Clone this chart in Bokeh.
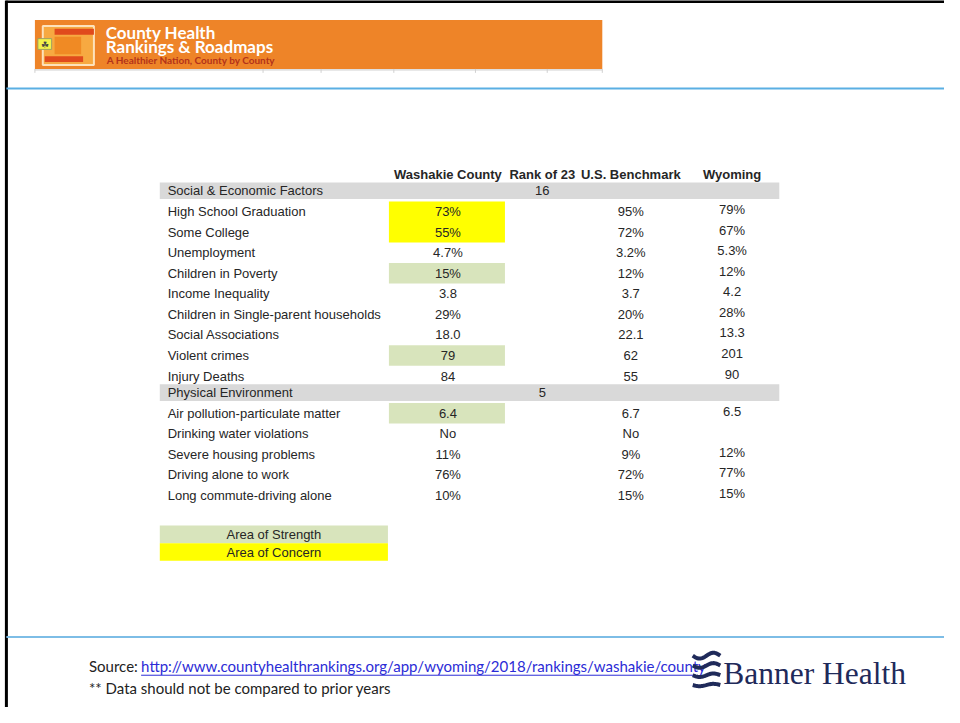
import numpy as np
from bokeh.plotting import figure
from bokeh.models import Range1d
from bokeh.core.properties import value
from bokeh.embed import file_html
from bokeh.resources import INLINE

# ---------------- data ----------------
col_headers = ["Washakie County", "Rank of 23", "U.S. Benchmark", "Wyoming"]
sections = ["Social & Economic Factors", "Physical Environment"]
section_ranks = ["16", "5"]
section_sizes = [9, 5]
measures = ["High School Graduation", "Some College", "Unemployment", "Children in Poverty",
            "Income Inequality", "Children in Single-parent households", "Social Associations",
            "Violent crimes", "Injury Deaths",
            "Air pollution-particulate  matter", "Drinking water violations",
            "Severe housing problems", "Driving alone to work", "Long commute-driving  alone"]
washakie = ["73%", "55%", "4.7%", "15%", "3.8", "29%", "18.0", "79", "84",
            "6.4", "No", "11%", "76%", "10%"]
benchmark = ["95%", "72%", "3.2%", "12%", "3.7", "20%", "22.1", "62", "55",
             "6.7", "No", "9%", "72%", "15%"]
wyoming = ["79%", "67%", "5.3%", "12%", "4.2", "28%", "13.3", "201", "90",
           "6.5", "", "12%", "77%", "15%"]
status = ["concern", "concern", "", "strength", "", "", "", "strength", "",
          "strength", "", "", "", ""]
legend_labels = ["Area of Strength", "Area of Concern"]

# ---------------- styles ----------------
FONT = value("Liberation Sans")
FS = "13px"
GREEN = "#d8e4bc"
YELLOW = "#ffff00"
GRAY = "#d9d9d9"
TXT = "#262626"
status_color = {"strength": GREEN, "concern": YELLOW}

W, H = 944, 707
p = figure(width=W, height=H, output_backend="svg", toolbar_location=None,
           x_range=Range1d(0, 960), y_range=Range1d(723, 0),
           min_border=0, outline_line_color=None)
p.axis.visible = False
p.grid.visible = False
p.background_fill_color = "white"
p.border_fill_color = "white"

# page frame
p.segment(x0=[6], y0=[0], x1=[6], y1=[723], line_color="black", line_width=3)
p.segment(x0=[5], y0=[1], x1=[960], y1=[1], line_color="black", line_width=3)
p.segment(x0=[6], y0=[90], x1=[960], y1=[90], line_color="#5aafe3", line_width=2)
p.segment(x0=[6], y0=[651], x1=[960], y1=[651], line_color="#7dbde6", line_width=2)

# ---------------- header banner ----------------
p.quad(left=[35], right=[612], top=[20], bottom=[70], fill_color="#ee8428", line_color=None)
p.segment(x0=[35], y0=[71], x1=[612], y1=[71], line_color="#c8c8c8", line_width=1)
for gx in [35, 267, 326, 400, 483, 556, 612]:
    p.segment(x0=[gx], y0=[70], x1=[gx], y1=[74], line_color="#d0d0d0", line_width=1)
# logo
p.quad(left=[43], right=[95], top=[26], bottom=[66], fill_color="#f7a941", line_color="#fde2bb", line_width=2)
p.quad(left=[55], right=[95], top=[29], bottom=[35], fill_color="#e04a1c", line_color=None)
p.quad(left=[45], right=[84], top=[57], bottom=[63], fill_color="#e04a1c", line_color=None)
p.quad(left=[55], right=[82], top=[37], bottom=[55], fill_color="#f08a24", line_color=None)
p.quad(left=[38], right=[52], top=[39], bottom=[50], fill_color="#f2f24a", line_color="#a0a060")
p.text(x=[45], y=[45], text=["\u2618"], text_font_size="9px", text_color="#444444",
       text_align="center", text_baseline="middle")
p.text(x=[107, 107], y=[33, 47], text=["County Health", "Rankings & Roadmaps"],
       text_font=value("Lato"), text_font_style="bold", text_font_size="17px",
       text_color="white", text_baseline="middle")
p.text(x=[108], y=[61], text=["A Healthier Nation, County by County"],
       text_font=value("Lato"), text_font_style="bold", text_font_size="10px",
       text_color="#b3321a", text_baseline="middle")

# ---------------- table ----------------
col_x = [455, 551, 641, 744]
label_x = 170
band_left, band_right = 162, 792
cell_left, cell_right = 395, 513
row_h = 21

p.text(x=col_x, y=[178] * 4, text=col_headers, text_font=FONT, text_font_style="bold",
       text_font_size=FS, text_color=TXT, text_align="center", text_baseline="middle")

y = 194.5
idx = 0
for s, (name, rank, n) in enumerate(zip(sections, section_ranks, section_sizes)):
    p.quad(left=[band_left], right=[band_right], top=[y - 8.5], bottom=[y + 8.5],
           fill_color=GRAY, line_color=None)
    p.text(x=[label_x], y=[y], text=[name], text_font=FONT, text_font_size=FS,
           text_color=TXT, text_baseline="middle")
    p.text(x=[col_x[1]], y=[y], text=[rank], text_font=FONT, text_font_size=FS,
           text_color=TXT, text_align="center", text_baseline="middle")
    y += 21.5 if s == 0 else 21
    for k in range(n):
        st = status[idx]
        if st:
            p.quad(left=[cell_left], right=[cell_right], top=[y - 10.5], bottom=[y + 10.5],
                   fill_color=status_color[st], line_color=None)
        p.text(x=[label_x], y=[y], text=[measures[idx]], text_font=FONT, text_font_size=FS,
               text_color=TXT, text_baseline="middle")
        p.text(x=[col_x[0], col_x[2]], y=[y, y], text=[washakie[idx], benchmark[idx]],
               text_font=FONT, text_font_size=FS, text_color=TXT,
               text_align="center", text_baseline="middle")
        p.text(x=[col_x[3]], y=[y - 2], text=[wyoming[idx]], text_font=FONT,
               text_font_size=FS, text_color=TXT, text_align="center", text_baseline="middle")
        y += row_h
        idx += 1
    y -= 4

# legend
for i, (lab, col) in enumerate(zip(legend_labels, [GREEN, YELLOW])):
    yc = 546 + i * 18
    p.quad(left=[162], right=[394], top=[yc - 9], bottom=[yc + 9], fill_color=col, line_color=None)
    p.text(x=[278], y=[yc], text=[lab], text_font=FONT, text_font_size=FS,
           text_color=TXT, text_align="center", text_baseline="middle")

# ---------------- footer ----------------
p.text(x=[90], y=[681], text=["Source:"], text_font=value("Lato"), text_font_size="15px",
       text_color="#222222", text_baseline="middle")
p.text(x=[143], y=[681], text=["http://www.countyhealthrankings.org/app/wyoming/2018/rankings/washakie/county"],
       text_font=value("Lato"), text_font_size="15px", text_color="#2b2bd6", text_baseline="middle")
p.segment(x0=[143], y0=[690], x1=[706], y1=[690], line_color="#2b2bd6", line_width=1)
p.text(x=[90], y=[703], text=["** Data should not be compared to prior years"], text_font=value("Lato"),
       text_font_size="15px", text_color="#222222", text_baseline="middle")

# Banner Health logo
t = np.linspace(0, 1, 30)
for j in range(4):
    xs = 704 + 28 * t
    ys = 670 + j * 10 + 3 * np.sin(t * 2 * np.pi) * (1 - 0.2 * j)
    p.line(x=xs, y=ys, line_color="#1f2a5a", line_width=4)
p.text(x=[735], y=[688], text=["Banner Health"], text_font=value("Liberation Serif"),
       text_font_size="31.5px", text_color="#1f2a5a", text_baseline="middle")

open("out.html", "w").write(file_html(p, INLINE))
